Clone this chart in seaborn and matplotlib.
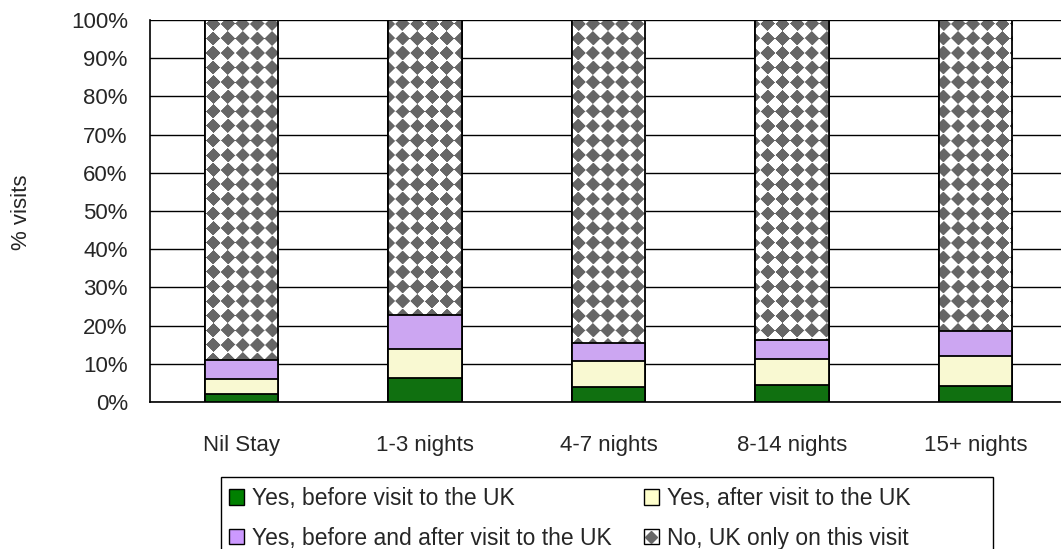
import numpy as np
import pandas as pd
import matplotlib
matplotlib.use("Agg")
import matplotlib.pyplot as plt
from matplotlib.patches import Patch, Rectangle
from matplotlib.lines import Line2D
import seaborn as sns

# values (% of visits)
stays = ["Nil Stay", "1-3 nights", "4-7 nights", "8-14 nights", "15+ nights"]
before_only = [2.1, 6.2, 3.9, 4.4, 4.3]
after_only = [3.9, 7.7, 6.9, 6.9, 7.7]
before_and_after = [5.1, 8.8, 4.6, 5.0, 6.5]
uk_only = [100 - a - b - c for a, b, c in zip(before_only, after_only, before_and_after)]

labels = ["Yes, before visit to the UK", "Yes, after visit to the UK",
          "Yes, before and after visit to the UK", "No, UK only on this visit"]
colors = ["#008000", "#FFFFCC", "#CC99FF", "#FFFFFF"]
pattern_grey = "#666666"

df = pd.DataFrame({"stay": stays, "before": before_only, "after": after_only,
                   "both": before_and_after, "none": uk_only})
# cumulative tops for stacking
df["c1"] = df["before"]
df["c2"] = df["c1"] + df["after"]
df["c3"] = df["c2"] + df["both"]
df["c4"] = df["c3"] + df["none"]

sns.set_theme(style="white")
plt.rcParams["font.family"] = ["Liberation Sans", "DejaVu Sans"]

fig = plt.figure(figsize=(10.61, 5.49), dpi=100)
ax = fig.add_axes([150 / 1061, 1 - 402 / 549, 917 / 1061, 382 / 549])

bar_kw = dict(width=0.4, edgecolor="black", linewidth=1.3)
sns.barplot(data=df, x="stay", y="c4", color=colors[3], ax=ax, zorder=2, **bar_kw)
none_bars = list(ax.patches)

# diamond texture for the "UK only" segment, clipped to each bar
H, W = 382, 917
yy, xx = np.mgrid[0:H, 0:W]
step = 14.6
dx = np.abs((xx + 3) % step - step / 2)
dy = np.abs((yy + 4) % step - step / 2)
mask = (dx + dy) < 7.2
tex = np.ones((H, W, 3))
tex[mask] = matplotlib.colors.to_rgb(pattern_grey)
for p in none_bars:
    im = ax.imshow(tex, extent=(-0.5, 4.5, 0, 100), aspect="auto",
                   interpolation="bilinear", zorder=2.1)
    im.set_clip_path(p)
    bb = p.get_bbox()
    ax.add_patch(Rectangle((bb.x0, bb.y0), bb.width, bb.height, fill=False,
                           edgecolor="black", linewidth=1.3, zorder=2.2))

sns.barplot(data=df, x="stay", y="c3", color=colors[2], ax=ax, zorder=3, **bar_kw)
sns.barplot(data=df, x="stay", y="c2", color=colors[1], ax=ax, zorder=4, **bar_kw)
sns.barplot(data=df, x="stay", y="c1", color=colors[0], ax=ax, zorder=5, **bar_kw)

ax.set_xlim(-0.5, 4.5)
ax.set_ylim(0, 100)
ax.set_yticks(np.arange(0, 101, 10))
ax.set_yticklabels([f"{t}%" for t in range(0, 101, 10)])
ax.yaxis.grid(True, color="black", linewidth=1)
ax.set_axisbelow(True)
ax.tick_params(axis="both", length=0, labelsize=16)
ax.tick_params(axis="y", pad=16)
ax.tick_params(axis="x", pad=24)
for s in ["top", "right"]:
    ax.spines[s].set_visible(False)
for s in ["left", "bottom"]:
    ax.spines[s].set_color("black")
    ax.spines[s].set_linewidth(1.2)
ax.set_xlabel("")
ax.set_ylabel("% visits", fontsize=16)
ax.yaxis.set_label_coords(-0.129, 0.497)

# legend: row 1 = before / after, row 2 = both / none (matplotlib fills by column)
h_before = Patch(facecolor=colors[0], edgecolor="black")
h_after = Patch(facecolor=colors[1], edgecolor="black")
h_both = Patch(facecolor=colors[2], edgecolor="black")
h_none = (Patch(facecolor="white", edgecolor="black"),
          Line2D([], [], marker="D", color=pattern_grey, linestyle="none", markersize=6))
handles = [h_before, h_both, h_after, h_none]
order_labels = [labels[0], labels[2], labels[1], labels[3]]
leg = fig.legend(handles, order_labels, ncol=2, loc="upper left",
                 bbox_to_anchor=(229 / 1061, 1 - 487 / 549),
                 fontsize=16.5, frameon=False, handlelength=0.65, handleheight=0.65,
                 handletextpad=0.35, borderpad=0.0, borderaxespad=0.0,
                 labelspacing=0.72, columnspacing=1.4)
fig.add_artist(Rectangle((221 / 1061, -0.05), (993 - 221) / 1061, 0.05 + 1 - 477 / 549,
                         transform=fig.transFigure, fill=False, edgecolor="black",
                         linewidth=1.0))

fig.savefig("out.png", dpi=100)
